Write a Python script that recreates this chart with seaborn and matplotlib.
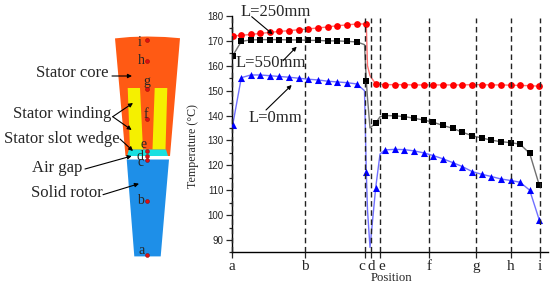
import numpy as np
import pandas as pd
import seaborn as sns
import matplotlib
matplotlib.use("Agg")
import matplotlib.pyplot as plt
from matplotlib.patches import Polygon
from matplotlib.transforms import ScaledTranslation

sns.set_theme(style="ticks")
plt.rcParams['font.family'] = ['Liberation Serif', 'DejaVu Serif']

W, H = 550, 286

position_marks = [0.7, 9.3, 18.7, 28.3, 38, 47.3, 57, 66.7, 76.3, 86, 95.7, 105.3, 115, 124.7, 134.3,
                  143.7, 153, 162.7, 172.3, 182, 191.7, 201.3, 211, 220.7, 230.3, 240,
                  249.7, 259.3, 269, 278.7, 288, 297.7, 307.3]
red_marks = [172, 172.2, 172.6, 173, 173.4, 173.8, 174.1, 174.5, 174.8, 175.2, 175.6, 176.1, 176.4, 176.8, 176.9,
             152.7, 152.4, 152.4, 152.4, 152.3, 152.3, 152.3, 152.3, 152.3, 152.3, 152.4,
             152.4, 152.3, 152.3, 152.2, 152.1, 152, 151.8]
black_marks = [164, 169.8, 170.4, 170.5, 170.5, 170.5, 170.4, 170.4, 170.2, 170.2, 170, 170, 169.8, 169.6, 154,
               137, 140, 139.9, 139.6, 138.9, 138.2, 137.3, 136, 134.9, 133.3, 131.9,
               131, 130.1, 129.5, 129.1, 128.5, 124.8, 112]
blue_marks = [136.2, 155.2, 156.3, 156.3, 156, 155.7, 155.4, 155, 154.6, 154.3, 153.8, 153.5, 153.2, 152.7, 117.3,
              111, 126.2, 126.4, 126.3, 125.8, 125, 123.9, 122.6, 121.1, 119.5, 117.5,
              116.4, 115.5, 114.5, 113.9, 113.2, 110, 98]

# unmarked simulation points that shape the line around the air gap
pos_extra = [132.5, 135.5, 138, 148]
red_extra = [176.8, 160, 156, 152.6]
black_extra = [168.5, 147, 135, 139.5]
blue_extra = [150, 102, 87, 124.5]

region_pos = [0, 73.3, 133, 139, 148, 197, 244, 278.7, 308]
region_names = ['a', 'b', 'c', 'd', 'e', 'f', 'g', 'h', 'i']
yticks_major = list(range(90, 181, 10))
yticks_minor = list(range(85, 181, 10))

fig = plt.figure(figsize=(W / 100, H / 100), dpi=100)
ax = fig.add_axes([232 / W, 1 - 252.4 / H, (548 - 232) / W, (252.4 - 16) / H])

series = [('L=250mm', red_marks, red_extra, 'o', '#ff0000', '#ff7070', 24),
          ('L=550mm', black_marks, black_extra, 's', '#000000', '#707070', 15),
          ('L=0mm', blue_marks, blue_extra, '^', '#0000ff', '#7070ff', 26)]
for name, marks, extra, mk, col, lcol, size in series:
    df = pd.DataFrame({'x': position_marks + pos_extra, 'y': marks + extra}).sort_values('x')
    sns.lineplot(data=df, x='x', y='y', ax=ax, color=lcol, lw=1.0, sort=False, errorbar=None, estimator=None)
    sns.scatterplot(x=position_marks, y=marks, ax=ax, marker=mk, color=col, s=size, linewidth=0, zorder=3)

for p in region_pos:
    ax.plot([p, p], [85, 179.3], color='#222222', lw=1.0, dashes=(4, 2.6), zorder=4, clip_on=False)

ax.set_xlim(0, 316)
ax.set_ylim(85, 180)
ax.set_xticks(region_pos)
ax.set_xticklabels(region_names, fontsize=11)
ax.set_yticks(yticks_major)
ax.set_yticks(yticks_minor, minor=True)
ax.set_yticklabels([str(v) for v in yticks_major], fontsize=7)
for lab in ax.get_yticklabels():
    lab.set_fontfamily('Liberation Sans')
    lab.set_color('#222222')
ax.tick_params(axis='y', which='major', length=4.5, width=0.9, pad=1.5)
ax.tick_params(axis='y', which='minor', length=2.5, width=0.9)
ax.tick_params(axis='x', which='major', length=4, width=0.9, pad=1.5)
label_shift = {'c': -3.5, 'e': 2.0}
for lab in ax.get_xticklabels():
    dx = label_shift.get(lab.get_text(), 0)
    lab.set_transform(lab.get_transform() + ScaledTranslation(dx / 100, 0, fig.dpi_scale_trans))
ax.set_xlabel('Position', fontsize=9.2, va='center')
ax.xaxis.set_label_coords(0.505, -0.108)
ax.set_ylabel('Temperature (°C)', fontsize=8.6, va='center')
ax.yaxis.set_label_coords(-0.123, 0.452)
ax.patch.set_alpha(0)
sns.despine(ax=ax)
for s in ('left', 'bottom'):
    ax.spines[s].set_linewidth(1.0)
    ax.spines[s].set_color('black')

# schematic and annotations share a pixel-space overlay
ov = fig.add_axes([0, 0, 1, 1], zorder=-1)
ov.set_xlim(0, W)
ov.set_ylim(H, 0)
ov.axis('off')
top = fig.add_axes([0, 0, 1, 1], zorder=5)
top.set_xlim(0, W)
top.set_ylim(H, 0)
top.axis('off')
top.patch.set_alpha(0)

core = [(115, 38.4), (130, 37), (147, 36.5), (165, 37), (180, 38.2), (170, 156), (125.5, 156)]
rotor = [(126.7, 159.5), (169, 159.5), (160.7, 256.4), (134.3, 256.4)]
wind_l = [(127.7, 88), (140, 88), (143, 149.5), (130, 149.5)]
wind_r = [(154.7, 88), (167.3, 88), (165.5, 149.5), (152.5, 149.5)]
wedge = [(129, 149.5), (166, 149.5), (168, 156), (127, 156)]
for poly, c in [(core, '#ff5a14'), (rotor, '#1e8fe8'), (wind_l, '#f5f000'), (wind_r, '#f5f000'), (wedge, '#19e0e0')]:
    ov.add_patch(Polygon(poly, closed=True, facecolor=c, edgecolor='none'))

dot_x = [147, 147, 147, 147, 147, 147, 147, 147, 147]
dot_y = [254.5, 201, 160, 155.7, 151, 119, 89, 61, 40]
ov.scatter(dot_x, dot_y, s=8, color='#e01010', edgecolor='#800000', linewidth=0.3, zorder=3)
letters = [('a', 141.5, 251), ('b', 140.5, 200), ('c', 141, 163), ('d', 140, 156.5), ('e', 144, 145),
           ('f', 146, 114), ('g', 147, 81), ('h', 141, 60), ('i', 139.5, 43)]
for t, x, y in letters:
    ov.text(x, y, t, fontsize=10, ha='center', va='center')

labels = [('Stator core', 36, 73), ('Stator winding', 13, 114), ('Stator slot wedge', 4, 139),
          ('Air gap', 32, 168), ('Solid rotor', 31, 193)]
for t, x, y in labels:
    ov.text(x, y, t, fontsize=12, ha='left', va='center')

arrows = [((112, 76), (132, 76)), ((112.7, 116.7), (133, 103)), ((112.7, 116.7), (131.7, 130)),
          ((120, 139), (133, 151)), ((85, 169), (131.7, 156)), ((103, 194.7), (139, 183.7))]
for a, b in arrows:
    ov.annotate('', xy=b, xytext=a, arrowprops=dict(arrowstyle='-|>', color='black', lw=0.8, mutation_scale=6, shrinkA=0, shrinkB=0))

for t, x, y in [('L=250mm', 241, 12), ('L=550mm', 236, 62.7), ('L=0mm', 249, 118)]:
    top.text(x, y, t, fontsize=12, ha='left', va='center')
for a, b in [((251.7, 16.7), (272.7, 34.3)), ((283, 60.7), (296.7, 46.7)), ((266, 110), (291.7, 85))]:
    top.annotate('', xy=b, xytext=a, arrowprops=dict(arrowstyle='-|>', color='black', lw=0.8, mutation_scale=6, shrinkA=0, shrinkB=0))

fig.savefig('out.png', dpi=100)
